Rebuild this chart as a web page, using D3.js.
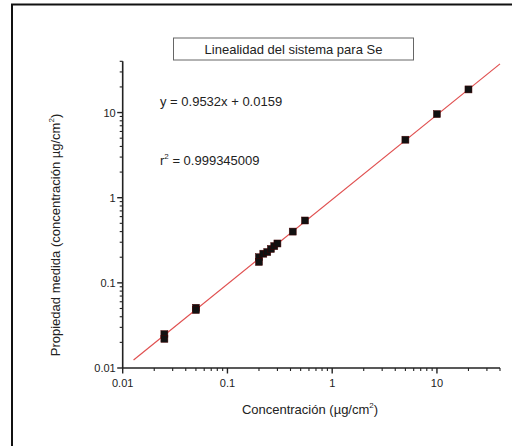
<!DOCTYPE html>
<html><head><meta charset="utf-8">
<script src="https://cdn.jsdelivr.net/npm/d3@7/dist/d3.min.js"></script>
<style>
body{margin:0;background:#fff;}
text{font-family:"Liberation Sans",Arial,sans-serif;fill:#222;}
</style></head>
<body><svg id="c" width="512" height="446"></svg>
<script>
const xVals = [0.025, 0.025, 0.05, 0.05, 0.20, 0.20, 0.22, 0.24, 0.26, 0.28, 0.30, 0.42, 0.55, 5, 10, 20];
const yVals = [0.025, 0.022, 0.051, 0.048, 0.20, 0.176, 0.22, 0.23, 0.25, 0.27, 0.29, 0.40, 0.54, 4.8, 9.6, 18.7];
const fitX = [0.0127, 40];
const fitY = [0.0124, 37.3];
const xTickLabels = ["0.01", "0.1", "1", "10"];
const yTickLabels = ["0.01", "0.1", "1", "10"];
const titleText = "Linealidad del sistema para Se";
const eqText = "y = 0.9532x + 0.0159";
const r2Value = "0.999345009";

const svg = d3.select("#c");
const L = 122.7, R = 500, T = 61.3, B = 368;
const x = d3.scaleLog().domain([0.01, 40]).range([L, R]);
const y = d3.scaleLog().domain([0.01, 40]).range([B, T]);

// outer frame
svg.append("rect").attr("x", 12).attr("y", 4.5).attr("width", 520).attr("height", 460)
  .attr("fill", "none").attr("stroke", "#111").attr("stroke-width", 2);

// minor/major ticks
const xMinor = [], yMinor = [];
[0.01, 0.1, 1, 10].forEach(d => { for (let k = 2; k <= 9; k++) { const v = d * k; if (v <= 40) { xMinor.push(v); yMinor.push(v); } } });

const gx = svg.append("g");
gx.append("line").attr("x1", L).attr("x2", R).attr("y1", B).attr("y2", B).attr("stroke", "#222").attr("stroke-width", 1.6);
gx.selectAll(".mn").data(xMinor).join("line").attr("x1", d => x(d)).attr("x2", d => x(d))
  .attr("y1", B).attr("y2", B + 3).attr("stroke", "#222").attr("stroke-width", 1.1);
gx.selectAll(".mj").data(xTickLabels).join("line").attr("x1", d => x(+d)).attr("x2", d => x(+d))
  .attr("y1", B).attr("y2", B + 5.5).attr("stroke", "#222").attr("stroke-width", 1.4);
gx.selectAll("text").data(xTickLabels).join("text").attr("x", d => x(+d)).attr("y", B + 19)
  .attr("text-anchor", "middle").attr("font-size", 11).text(d => d);

const gy = svg.append("g");
gy.append("line").attr("x1", L).attr("x2", L).attr("y1", B).attr("y2", T).attr("stroke", "#222").attr("stroke-width", 1.6);
gy.selectAll(".mn").data(yMinor).join("line").attr("y1", d => y(d)).attr("y2", d => y(d))
  .attr("x1", L).attr("x2", L - 3).attr("stroke", "#222").attr("stroke-width", 1.1);
gy.selectAll(".mj").data(yTickLabels).join("line").attr("y1", d => y(+d)).attr("y2", d => y(+d))
  .attr("x1", L).attr("x2", L - 5.5).attr("stroke", "#222").attr("stroke-width", 1.4);
gy.selectAll("text").data(yTickLabels).join("text").attr("x", L - 7).attr("y", d => y(+d) + 4)
  .attr("text-anchor", "end").attr("font-size", 11).text(d => d);

// fit line
svg.append("path").datum(fitX.map((d, i) => [d, fitY[i]]))
  .attr("d", d3.line().x(d => x(d[0])).y(d => y(d[1])))
  .attr("stroke", "#e05050").attr("stroke-width", 1.2).attr("fill", "none");

// points
const s = 7;
svg.selectAll(".pt").data(xVals.map((d, i) => [d, yVals[i]])).join("rect")
  .attr("x", d => x(d[0]) - s / 2).attr("y", d => y(d[1]) - s / 2)
  .attr("width", s).attr("height", s).attr("fill", "#111").attr("stroke", "#400").attr("stroke-width", 0.5);

// title box
svg.append("rect").attr("x", 173.5).attr("y", 38).attr("width", 240).attr("height", 22)
  .attr("fill", "#fff").attr("stroke", "#666").attr("stroke-width", 1);
svg.append("text").attr("x", 293.5).attr("y", 54).attr("text-anchor", "middle").attr("font-size", 13).text(titleText);

// equation
svg.append("text").attr("x", 160).attr("y", 106).attr("font-size", 13).text(eqText);
const r2 = svg.append("text").attr("x", 160).attr("y", 165).attr("font-size", 13);
r2.append("tspan").text("r");
r2.append("tspan").attr("font-size", 8).attr("dy", -6).text("2");
r2.append("tspan").attr("dy", 6).text(" = " + r2Value);

// x title
const xt = svg.append("text").attr("x", 310).attr("y", 414).attr("text-anchor", "middle").attr("font-size", 13);
xt.append("tspan").text("Concentración (µg/cm");
xt.append("tspan").attr("font-size", 8).attr("dy", -6).text("2");
xt.append("tspan").attr("dy", 6).text(")");

// y title
const yt = svg.append("text").attr("transform", "translate(60,235) rotate(-90)").attr("text-anchor", "middle").attr("font-size", 13);
yt.append("tspan").text("Propiedad medida (concentración µg/cm");
yt.append("tspan").attr("font-size", 8).attr("dy", -6).text("2");
yt.append("tspan").attr("dy", 6).text(")");
</script></body></html>
